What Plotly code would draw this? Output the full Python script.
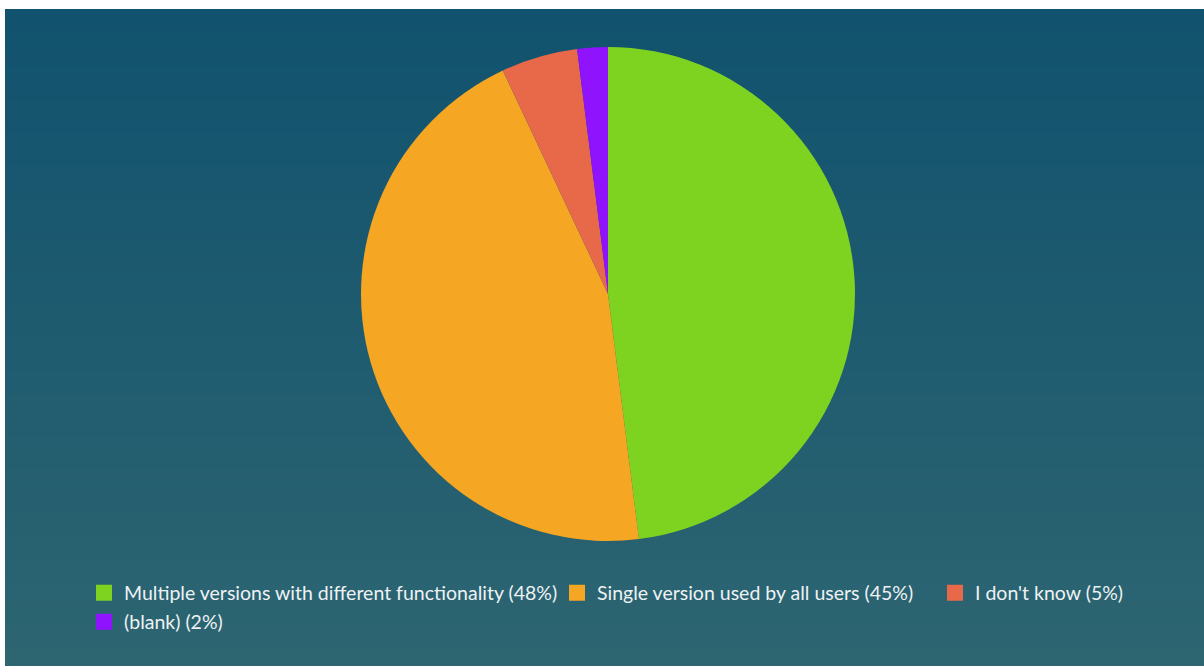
import plotly.graph_objects as go

labels = ["Multiple versions with different functionality (48%)",
          "Single version used by all users (45%)",
          "I don't know (5%)",
          "(blank) (2%)"]
values = [48, 45, 5, 2]
colors = ["#7ed321", "#f5a623", "#e8694a", "#9013fe"]

W, H = 1204, 666
ML, MT = 5, 9
PW, PH = W - ML, H - MT

fig = go.Figure(go.Pie(
    labels=labels, values=values, sort=False, direction="clockwise",
    rotation=0, textinfo="none", hoverinfo="label+value",
    marker=dict(colors=colors, line=dict(width=0)),
    showlegend=False,
    domain=dict(x=[(361 - ML) / PW, (855 - ML) / PW],
                y=[(H - 541) / PH, (H - 47) / PH]),
))

# legend entry positions (swatch centre, px)
legend_pos = [(104, 593), (577, 593), (955, 593), (104, 622)]
legend_names = ["legend", "legend2", "legend3", "legend4"]

legends = {}
for lab, col, lg, (cx, cy) in zip(labels, colors, legend_names, legend_pos):
    fig.add_trace(go.Scatter(x=[None], y=[None], mode="markers", name=lab,
                             marker=dict(symbol="square", size=18, color=col),
                             showlegend=True, hoverinfo="skip", legend=lg))
    legends[lg] = dict(orientation="h", x=(cx - 20 - ML) / PW, xanchor="left",
                       y=(H - cy) / PH, yanchor="middle",
                       font=dict(family="Lato", size=19.5, color="#eef2f4"),
                       itemsizing="trace", bgcolor="rgba(0,0,0,0)")

# vertical gradient background via stripes
top = (0x11, 0x52, 0x6e)
bot = (0x2d, 0x65, 0x71)
n = 80
shapes = []
for i in range(n):
    t = i / (n - 1)
    c = tuple(round(top[k] + (bot[k] - top[k]) * t) for k in range(3))
    shapes.append(dict(type="rect", xref="paper", yref="paper", layer="below",
                       x0=0, x1=1, y1=1 - i / n, y0=1 - (i + 1) / n - 0.002,
                       fillcolor="rgb(%d,%d,%d)" % c, line=dict(width=0)))

fig.update_layout(
    width=W, height=H,
    margin=dict(l=ML, r=0, t=MT, b=0),
    paper_bgcolor="white", plot_bgcolor="rgba(0,0,0,0)",
    xaxis=dict(visible=False), yaxis=dict(visible=False),
    shapes=shapes,
    showlegend=True,
    font=dict(family="Lato"),
    **legends,
)

fig.write_html("out.html")
